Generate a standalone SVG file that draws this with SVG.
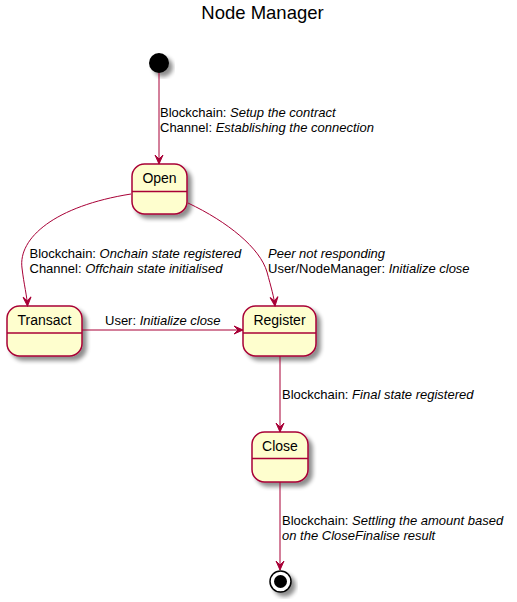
<svg xmlns="http://www.w3.org/2000/svg" width="517" height="602" viewBox="0 0 517 602">
<style>
.st{fill:#FEFECE;stroke:#A80036;stroke-width:1.5;filter:url(#sh)}
.dv{stroke:#A80036;stroke-width:1.5}
.nm{font-family:"Liberation Sans",Arial,sans-serif;font-size:14px;fill:#000;text-anchor:middle}
.lb{font-family:"Liberation Sans",Arial,sans-serif;font-size:13px;fill:#000}
.lb tspan.i{font-style:italic}
.ed{fill:none;stroke:#A80036;stroke-width:1;marker-end:url(#ah)}
</style>
<defs>
<filter id="sh" x="-20%" y="-20%" width="150%" height="150%">
<feGaussianBlur in="SourceAlpha" stdDeviation="2" result="b"/>
<feOffset in="b" dx="4" dy="4" result="o"/>
<feComponentTransfer in="o" result="s"><feFuncA type="linear" slope="0.45"/></feComponentTransfer>
<feMerge><feMergeNode in="s"/><feMergeNode in="SourceGraphic"/></feMerge>
</filter>
<marker id="ah" viewBox="-10 -5 11 10" markerWidth="11" markerHeight="10" refX="0" refY="0" orient="auto" markerUnits="userSpaceOnUse">
<polygon points="0,0 -9,-4 -5,0 -9,4" fill="#A80036" stroke="#A80036" stroke-width="1"/>
</marker>
</defs>
<text x="262.5" y="19" font-family="Liberation Sans,Arial,sans-serif" font-size="18.5" text-anchor="middle">Node Manager</text>

<g id="start"><circle cx="159" cy="63" r="10" fill="#000" filter="url(#sh)"/></g>

<g id="Open"><rect class="st" x="132" y="164" width="55" height="50" rx="12.5"/><line class="dv" x1="132" y1="191.5" x2="187" y2="191.5"/><text class="nm" x="159.5" y="183">Open</text></g>

<g id="Transact"><rect class="st" x="7" y="306" width="75" height="50" rx="12.5"/><line class="dv" x1="7" y1="333" x2="82" y2="333"/><text class="nm" x="44.5" y="325">Transact</text></g>

<g id="Register"><rect class="st" x="243" y="306" width="73" height="50" rx="12.5"/><line class="dv" x1="243" y1="333" x2="316" y2="333"/><text class="nm" x="279.5" y="325">Register</text></g>

<g id="Close"><rect class="st" x="252" y="432" width="56" height="50" rx="12.5"/><line class="dv" x1="252" y1="458.5" x2="308" y2="458.5"/><text class="nm" x="280" y="451">Close</text></g>

<g id="end"><circle cx="280.5" cy="581.5" r="10.5" fill="#fff" stroke="#000" stroke-width="1.5" filter="url(#sh)"/><circle cx="280.5" cy="581.5" r="6.5" fill="#000"/></g>

<g id="connectors">
<path class="ed" d="M159,73 L159,164"/>
<path class="ed" d="M131,194 C55,206 18,238 22,268 C24,285 27,296 27.5,306"/>
<path class="ed" d="M188,203 C228,222 260,248 267,272 C271,287 274,297 275,306"/>
<path class="ed" d="M82,330 L243,330"/>
<path class="ed" d="M280,356 L280,432"/>
<path class="ed" d="M280,482 L280,570"/>
</g>

<g id="labels">
<text class="lb" x="160" y="117">Blockchain: <tspan class="i">Setup the contract</tspan></text>
<text class="lb" x="160" y="132">Channel: <tspan class="i">Establishing the connection</tspan></text>
<text class="lb" x="29.5" y="258">Blockchain: <tspan class="i">Onchain state registered</tspan></text>
<text class="lb" x="29.5" y="273">Channel: <tspan class="i">Offchain state initialised</tspan></text>
<text class="lb" x="268" y="258"><tspan class="i">Peer not responding</tspan></text>
<text class="lb" x="268" y="273">User/NodeManager: <tspan class="i">Initialize close</tspan></text>
<text class="lb" x="105" y="325">User: <tspan class="i">Initialize close</tspan></text>
<text class="lb" x="282" y="399">Blockchain: <tspan class="i">Final state registered</tspan></text>
<text class="lb" x="282" y="525">Blockchain: <tspan class="i">Settling the amount based</tspan></text>
<text class="lb" x="282" y="540"><tspan class="i">on the CloseFinalise result</tspan></text>
</g>
</svg>
